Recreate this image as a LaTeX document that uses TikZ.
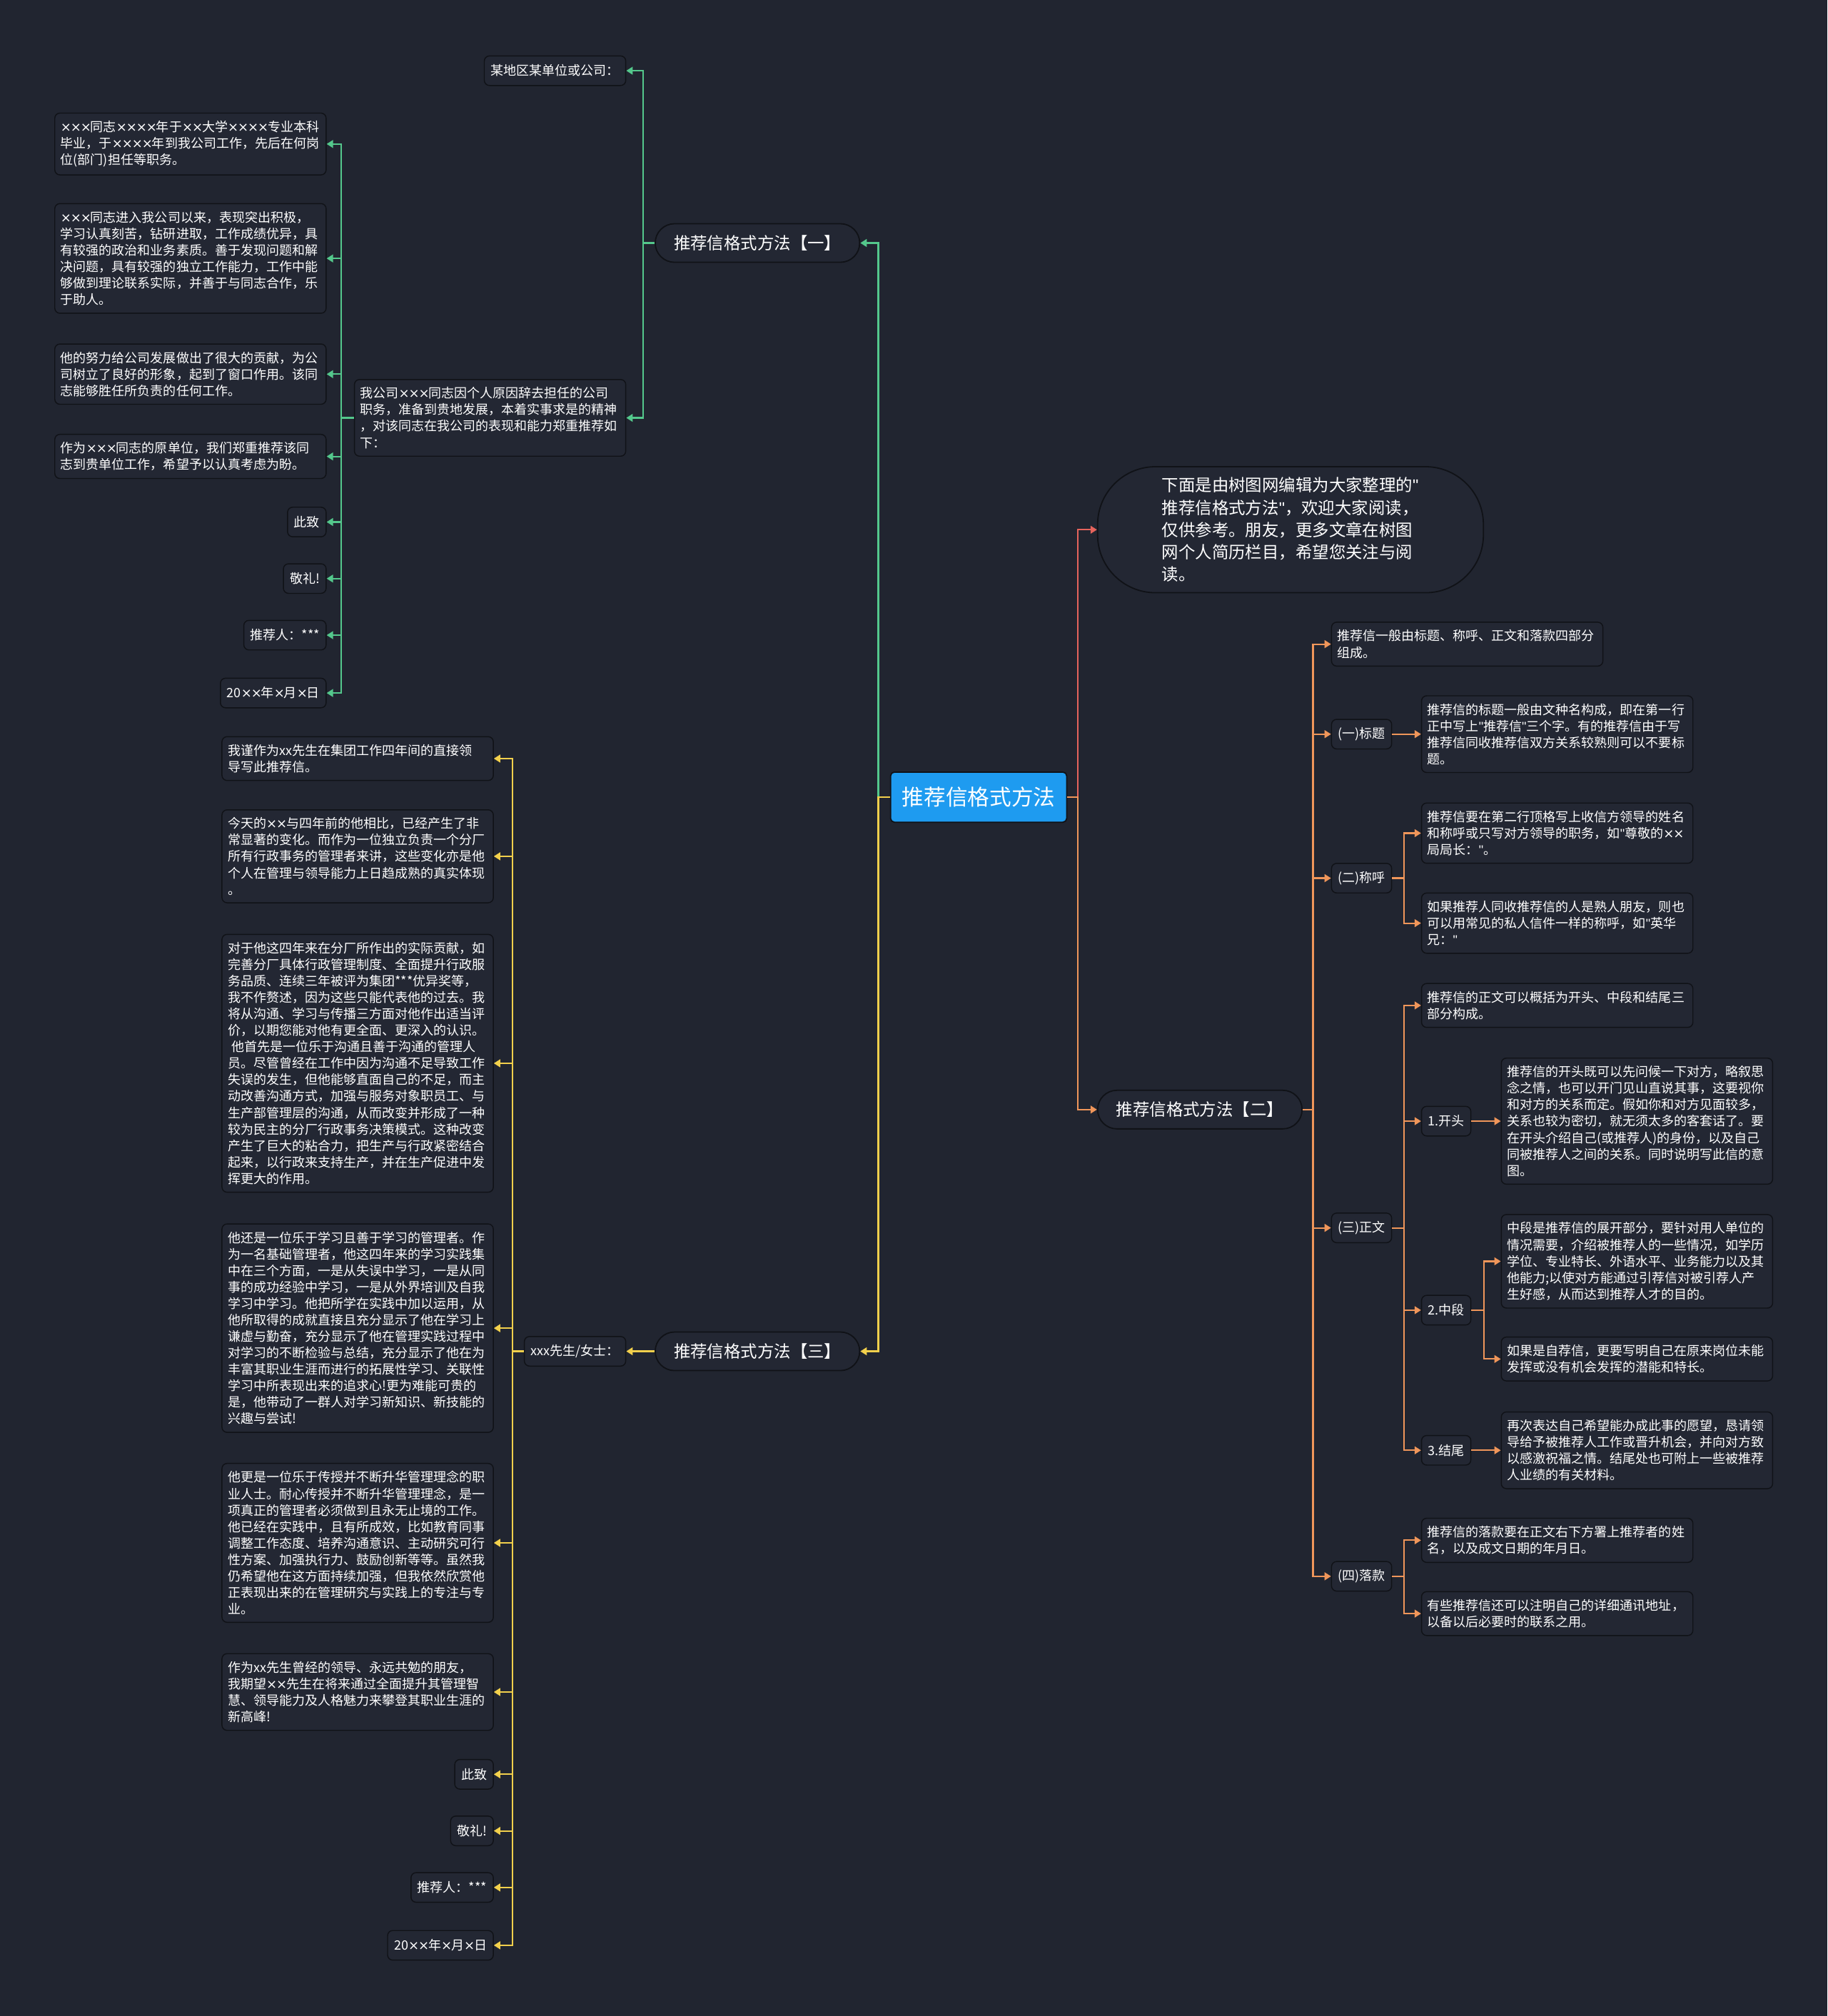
\documentclass[tikz,border=0pt]{standalone}
\usepackage{fontspec}
\setmainfont{Noto Sans CJK SC}
\newfontfamily\latf{Liberation Sans}
\newfontfamily\dvf{DejaVu Sans}
\newcommand\mx{{\dvf ×}\kern-0.6pt}
\newcommand\qm{{\latf "}}
\usetikzlibrary{arrows.meta}

\definecolor{bgc}{RGB}{33,37,48}
\definecolor{boxc}{RGB}{35,39,51}
\definecolor{edgec}{RGB}{16,18,23}
\definecolor{rootc}{RGB}{30,155,240}
\definecolor{greenc}{RGB}{84,200,140}
\definecolor{yellowc}{RGB}{242,208,76}
\definecolor{orangec}{RGB}{240,150,90}
\definecolor{redc}{RGB}{230,100,92}

\begin{document}
\begin{tikzpicture}[x=1pt,y=-1pt,
  box/.style={draw=edgec,fill=boxc,line width=0.8pt,rounded corners=4pt,text=white,
    font=\fontsize{10}{12.8}\selectfont,align=left,text width=202pt,inner xsep=4.5pt,inner ysep=6pt},
  tag/.style={draw=edgec,fill=boxc,line width=0.8pt,rounded corners=4pt,text=white,
    font=\fontsize{10}{12.8}\selectfont,inner xsep=5pt,inner ysep=0pt,minimum height=23pt},
  pill/.style={draw=edgec,fill=boxc,line width=1pt,rounded corners=15pt,text=white,
    font=\fontsize{13}{16}\selectfont,minimum width=159pt,minimum height=30pt},
  rootbox/.style={draw=edgec,fill=rootc,line width=1pt,rounded corners=3pt,text=white,
    font=\fontsize{17}{20}\selectfont,minimum width=137pt,minimum height=39pt},
  introbox/.style={draw=edgec,fill=boxc,line width=1pt,rounded corners=45pt,text=white,
    font=\fontsize{13}{17.3}\selectfont,align=left,text width=200pt,inner xsep=50pt,
    minimum height=98pt},
  link/.style={line width=1.2pt,-{Triangle[length=5pt,width=6pt]}},
  gl/.style={link,draw=greenc},
  yl/.style={link,draw=yellowc},
  ol/.style={link,draw=orangec},
  rl/.style={link,draw=redc}]

  \fill[bgc](0,0)rectangle(1421,1568);
  \useasboundingbox(0,0)rectangle(1421,1568);

  \node[rootbox](root)at(761,620){推荐信格式方法};
  \node[introbox,anchor=west](intro)at(853,412){下面是由树图网编辑为大家整理的\qm{}\\推荐信格式方法\qm{}，欢迎大家阅读，\\仅供参考。朋友，更多文章在树图\\网个人简历栏目，希望您关注与阅\\读。};
  \node[pill,anchor=west](two)at(853,863){推荐信格式方法【二】};
  \node[pill,anchor=east](one)at(669,189){推荐信格式方法【一】};
  \node[pill,anchor=east](three)at(669,1051){推荐信格式方法【三】};

  \node[box,anchor=west](d0)at(1035,501){推荐信一般由标题、称呼、正文和落款四部分\\组成。};
  \node[tag,anchor=west](t1)at(1035,571){(一)标题};
  \node[box,anchor=west](d1)at(1105,571){推荐信的标题一般由文种名构成，即在第一行\\正中写上\qm{}推荐信\qm{}三个字。有的推荐信由于写\\推荐信同收推荐信双方关系较熟则可以不要标\\题。};
  \node[tag,anchor=west](t2)at(1035,683){(二)称呼};
  \node[box,anchor=west](d2a)at(1105,648){推荐信要在第二行顶格写上收信方领导的姓名\\和称呼或只写对方领导的职务，如\qm{}尊敬的\mx{}\mx{}\\局局长：\qm{}。};
  \node[box,anchor=west](d2b)at(1105,718){如果推荐人同收推荐信的人是熟人朋友，则也\\可以用常见的私人信件一样的称呼，如\qm{}英华\\兄：\qm{}};
  \node[tag,anchor=west](t3)at(1035,955){(三)正文};
  \node[box,anchor=west](d3a)at(1105,782){推荐信的正文可以概括为开头、中段和结尾三\\部分构成。};
  \node[tag,anchor=west](s1)at(1105,872){1.开头};
  \node[box,anchor=west](d3b)at(1167,872){推荐信的开头既可以先问候一下对方，略叙思\\念之情，也可以开门见山直说其事，这要视你\\和对方的关系而定。假如你和对方见面较多，\\关系也较为密切，就无须太多的客套话了。要\\在开头介绍自己(或推荐人)的身份，以及自己\\同被推荐人之间的关系。同时说明写此信的意\\图。};
  \node[tag,anchor=west](s2)at(1105,1019){2.中段};
  \node[box,anchor=west](d3c)at(1167,981){中段是推荐信的展开部分，要针对用人单位的\\情况需要，介绍被推荐人的一些情况，如学历\\学位、专业特长、外语水平、业务能力以及其\\他能力;以使对方能通过引荐信对被引荐人产\\生好感，从而达到推荐人才的目的。};
  \node[box,anchor=west](d3d)at(1167,1057){如果是自荐信，更要写明自己在原来岗位未能\\发挥或没有机会发挥的潜能和特长。};
  \node[tag,anchor=west](s3)at(1105,1128){3.结尾};
  \node[box,anchor=west](d3e)at(1167,1128){再次表达自己希望能办成此事的愿望，恳请领\\导给予被推荐人工作或晋升机会，并向对方致\\以感激祝福之情。结尾处也可附上一些被推荐\\人业绩的有关材料。};
  \node[tag,anchor=west](t4)at(1035,1226){(四)落款};
  \node[box,anchor=west](d4a)at(1105,1198){推荐信的落款要在正文右下方署上推荐者的姓\\名，以及成文日期的年月日。};
  \node[box,anchor=west](d4b)at(1105,1255){有些推荐信还可以注明自己的详细通讯地址，\\以备以后必要时的联系之用。};

  \node[tag,anchor=east](a0)at(487,55){某地区某单位或公司：};
  \node[box,anchor=east](a1)at(487,325){我公司\mx{}\mx{}\mx{}同志因个人原因辞去担任的公司\\职务，准备到贵地发展，本着实事求是的精神\\，对该同志在我公司的表现和能力郑重推荐如\\下：};
  \node[box,anchor=east](b1)at(254,112){\mx{}\mx{}\mx{}同志\mx{}\mx{}\mx{}\mx{}年于\mx{}\mx{}大学\mx{}\mx{}\mx{}\mx{}专业本科\\毕业，于\mx{}\mx{}\mx{}\mx{}年到我公司工作，先后在何岗\\位(部门)担任等职务。};
  \node[box,anchor=east](b2)at(254,201){\mx{}\mx{}\mx{}同志进入我公司以来，表现突出积极，\\学习认真刻苦，钻研进取，工作成绩优异，具\\有较强的政治和业务素质。善于发现问题和解\\决问题，具有较强的独立工作能力，工作中能\\够做到理论联系实际，并善于与同志合作，乐\\于助人。};
  \node[box,anchor=east](b3)at(254,291){他的努力给公司发展做出了很大的贡献，为公\\司树立了良好的形象，起到了窗口作用。该同\\志能够胜任所负责的任何工作。};
  \node[box,anchor=east](b4)at(254,355){作为\mx{}\mx{}\mx{}同志的原单位，我们郑重推荐该同\\志到贵单位工作，希望予以认真考虑为盼。};
  \node[tag,anchor=east](b5)at(254,406){此致};
  \node[tag,anchor=east](b6)at(254,450){敬礼!};
  \node[tag,anchor=east](b7)at(254,494){推荐人：***};
  \node[tag,anchor=east](b8)at(254,539){20\mx{}\mx{}年\mx{}月\mx{}日};

  \node[tag,anchor=east](c0)at(487,1051){xxx先生/女士：};
  \node[box,anchor=east](c1)at(384,590){我谨作为xx先生在集团工作四年间的直接领\\导写此推荐信。};
  \node[box,anchor=east](c2)at(384,666){今天的\mx{}\mx{}与四年前的他相比，已经产生了非\\常显著的变化。而作为一位独立负责一个分厂\\所有行政事务的管理者来讲，这些变化亦是他\\个人在管理与领导能力上日趋成熟的真实体现\\。};
  \node[box,anchor=east](c3)at(384,827){对于他这四年来在分厂所作出的实际贡献，如\\完善分厂具体行政管理制度、全面提升行政服\\务品质、连续三年被评为集团***优异奖等，\\我不作赘述，因为这些只能代表他的过去。我\\将从沟通、学习与传播三方面对他作出适当评\\价，以期您能对他有更全面、更深入的认识。\\\hspace*{3pt}他首先是一位乐于沟通且善于沟通的管理人\\员。尽管曾经在工作中因为沟通不足导致工作\\失误的发生，但他能够直面自己的不足，而主\\动改善沟通方式，加强与服务对象职员工、与\\生产部管理层的沟通，从而改变并形成了一种\\较为民主的分厂行政事务决策模式。这种改变\\产生了巨大的粘合力，把生产与行政紧密结合\\起来，以行政来支持生产，并在生产促进中发\\挥更大的作用。};
  \node[box,anchor=east](c4)at(384,1033){他还是一位乐于学习且善于学习的管理者。作\\为一名基础管理者，他这四年来的学习实践集\\中在三个方面，一是从失误中学习，一是从同\\事的成功经验中学习，一是从外界培训及自我\\学习中学习。他把所学在实践中加以运用，从\\他所取得的成就直接且充分显示了他在学习上\\谦虚与勤奋，充分显示了他在管理实践过程中\\对学习的不断检验与总结，充分显示了他在为\\丰富其职业生涯而进行的拓展性学习、关联性\\学习中所表现出来的追求心!更为难能可贵的\\是，他带动了一群人对学习新知识、新技能的\\兴趣与尝试!};
  \node[box,anchor=east](c5)at(384,1200){他更是一位乐于传授并不断升华管理理念的职\\业人士。耐心传授并不断升华管理理念，是一\\项真正的管理者必须做到且永无止境的工作。\\他已经在实践中，且有所成效，比如教育同事\\调整工作态度、培养沟通意识、主动研究可行\\性方案、加强执行力、鼓励创新等等。虽然我\\仍希望他在这方面持续加强，但我依然欣赏他\\正表现出来的在管理研究与实践上的专注与专\\业。};
  \node[box,anchor=east](c6)at(384,1316){作为xx先生曾经的领导、永远共勉的朋友，\\我期望\mx{}\mx{}先生在将来通过全面提升其管理智\\慧、领导能力及人格魅力来攀登其职业生涯的\\新高峰!};
  \node[tag,anchor=east](c7)at(384,1380){此致};
  \node[tag,anchor=east](c8)at(384,1424){敬礼!};
  \node[tag,anchor=east](c9)at(384,1468){推荐人：***};
  \node[tag,anchor=east](c10)at(384,1513){20\mx{}\mx{}年\mx{}月\mx{}日};

  \draw[gl](root.west)--++(-9,0)|-(one.east);
  \draw[gl](one.west)--++(-9,0)|-(a0.east);
  \draw[gl](one.west)--++(-9,0)|-(a1.east);
  \foreach \n in {b1,b2,b3,b4,b5,b6,b7,b8}
    \draw[gl](a1.west)--++(-10,0)|-(\n.east);

  \draw[yl](root.west)--++(-9,0)|-(three.east);
  \draw[yl](three.west)--(c0.east);
  \foreach \n in {c1,c2,c3,c4,c5,c6,c7,c8,c9,c10}
    \draw[yl](c0.west)--++(-9,0)|-(\n.east);

  \draw[rl](root.east)--++(8,0)|-(intro.west);
  \draw[ol](root.east)--++(8,0)|-(two.west);
  \foreach \n in {d0,t1,t2,t3,t4}
    \draw[ol](two.east)--++(8,0)|-(\n.west);
  \draw[ol](t1.east)--(d1.west);
  \foreach \n in {d2a,d2b}
    \draw[ol](t2.east)--++(9,0)|-(\n.west);
  \foreach \n in {d3a,s1,s2,s3}
    \draw[ol](t3.east)--++(9,0)|-(\n.west);
  \draw[ol](s1.east)--(d3b.west);
  \foreach \n in {d3c,d3d}
    \draw[ol](s2.east)--++(10,0)|-(\n.west);
  \draw[ol](s3.east)--(d3e.west);
  \foreach \n in {d4a,d4b}
    \draw[ol](t4.east)--++(9,0)|-(\n.west);
\end{tikzpicture}
\end{document}
